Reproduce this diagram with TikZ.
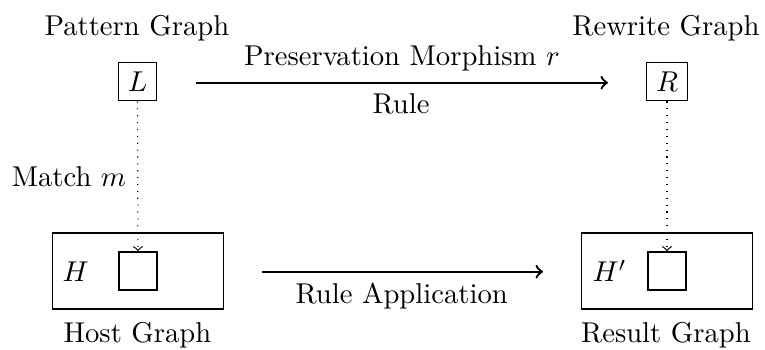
\documentclass[tikz,border=0pt]{standalone}
\usetikzlibrary{arrows}
\begin{document}
\begin{tikzpicture}[x=0.349pt,y=-0.349pt,
  lbl/.style={anchor=base,inner sep=0pt},
  small/.style={draw,thin},
  graphbox/.style={draw,thin,minimum width=59.7pt,minimum height=26.5pt,inner sep=0pt},
  slot/.style={draw,thin,minimum size=13.3pt,inner sep=0pt},
  morph/.style={->,thick},
  match/.style={->,dotted,thin}]
\useasboundingbox (0,0) rectangle (765,349);
% top row
\node[small] (L) at (137.5,81.5) {$L$};
\node[small] (R) at (667,81.5) {$R$};
\node[lbl] (pg) at (137,35.7) {Pattern Graph};
\node[lbl] (rg) at (666,35.7) {Rewrite Graph};
\coordinate (ta) at (196,82.7);
\coordinate (tb) at (608,82.7);
\draw[morph] (ta) -- (tb);
\node[lbl] (pm) at (402,65) {Preservation Morphism $r$};
\node[lbl] (rule) at (401,113) {Rule};
% bottom row
\node[graphbox] (host) at (137.7,271) {};
\node[slot] (hs) at (138,271) {};
\node[lbl,anchor=base west] (H) at (62,281.5) {$H$};
\node[graphbox] (res) at (667,271) {};
\node[slot] (rs) at (667,271) {};
\node[lbl,anchor=base west] (Hp) at (592,281.5) {$H'$};
\node[lbl] (hg) at (137.5,342) {Host Graph};
\node[lbl] (resg) at (666,342) {Result Graph};
\coordinate (ba) at (262,271.7);
\coordinate (bb) at (543,271.7);
\draw[morph] (ba) -- (bb);
\node[lbl] (ra) at (401.7,303) {Rule Application};
% matches
\draw[match] (L) -- (hs);
\draw[match] (R) -- (rs);
\node[lbl] (mm) at (69,186) {Match $m$};
\end{tikzpicture}
\end{document}
